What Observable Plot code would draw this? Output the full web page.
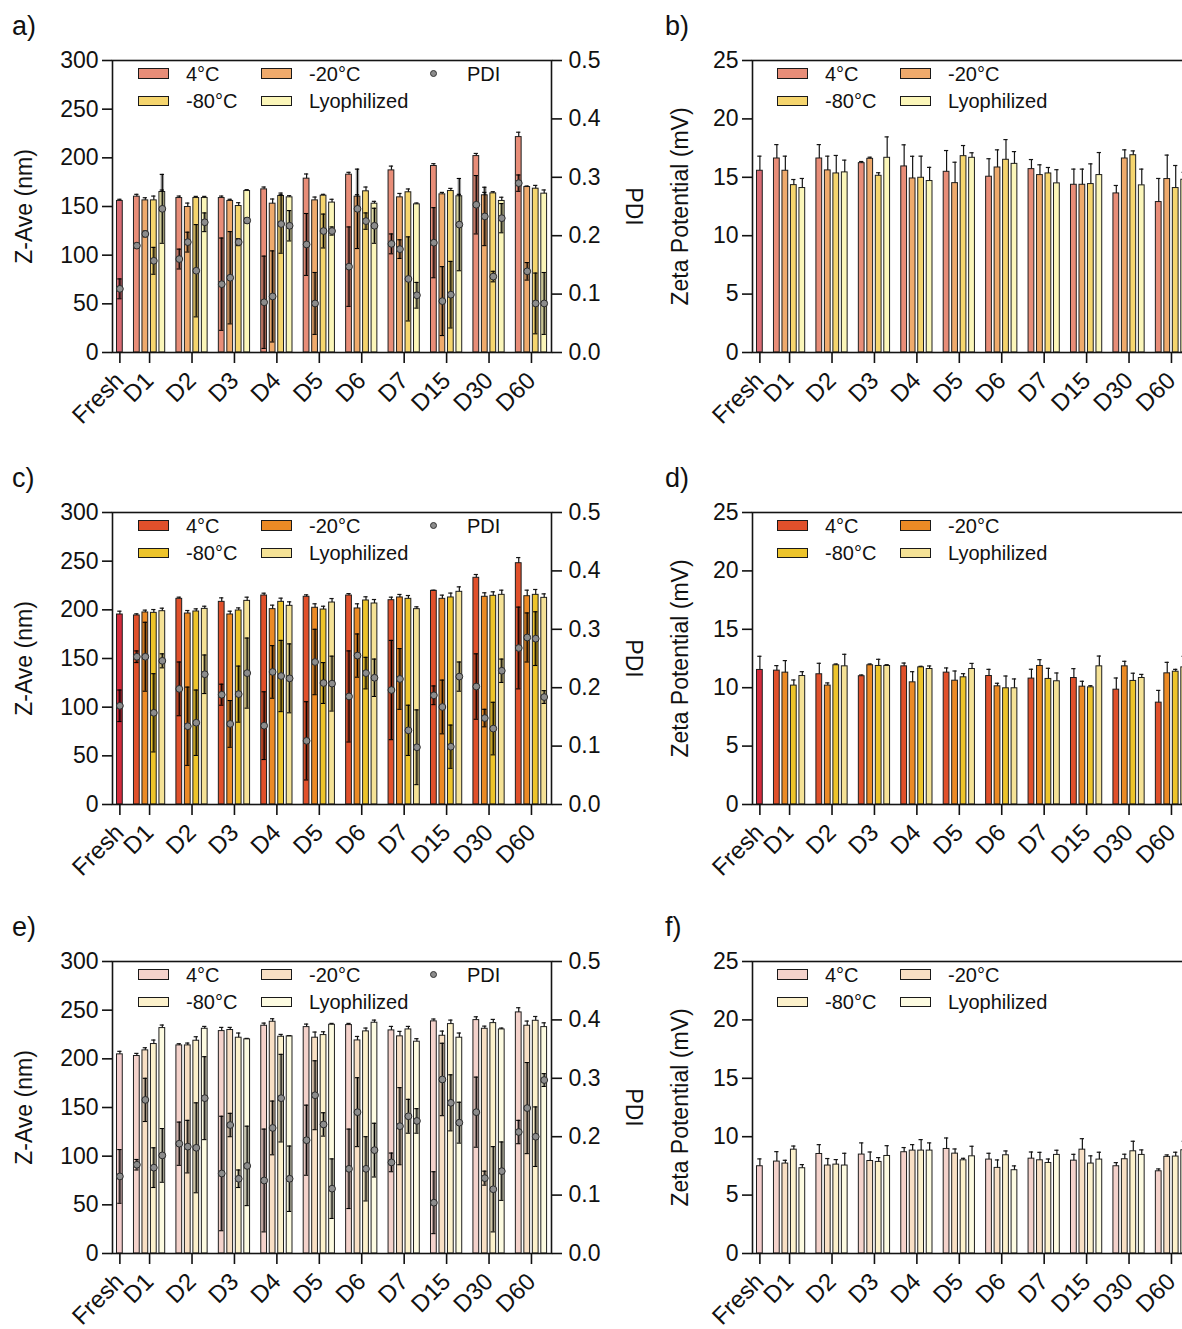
<!DOCTYPE html>
<html><head><meta charset="utf-8">
<script src="https://cdn.jsdelivr.net/npm/d3@7"></script>
<script src="https://cdn.jsdelivr.net/npm/@observablehq/plot@0.6"></script>
<style>
html,body{margin:0;padding:0;background:#fff;overflow:hidden;width:1182px;height:1329px;}
#root{position:relative;width:1182px;height:1329px;overflow:hidden;font-family:"Liberation Sans",Arial,sans-serif;color:#111;}
.panel{position:absolute;}
.lg{position:absolute;font-size:20px;line-height:20px;white-space:nowrap;}
.sw{position:absolute;box-sizing:border-box;width:31px;height:10.5px;border:1.5px solid #1a1a1a;}
.dot{position:absolute;box-sizing:border-box;width:7px;height:7px;border-radius:50%;background:#8c8c8c;border:1px solid #333;}
.letter{position:absolute;font-size:27px;line-height:27px;}
</style></head><body><div id="root"></div>
<script>
// ---------- categories ----------
const days = ["D1","D2","D3","D4","D5","D6","D7","D15","D30","D60"];
const xLabels = ["Fresh", ...days];
const conditions = ["4°C","-20°C","-80°C","Lyophilized"];
const zTicks = [0,50,100,150,200,250,300];
const zetaTicks = [0,5,10,15,20,25];
const pdiTicks = [0,0.1,0.2,0.3,0.4,0.5];

// ---------- colours ----------
const paletteA = {fresh:"#D96B73", cond:["#E88D78","#EFAA6C","#F5D56E","#FBF6B9"]};
const paletteC = {fresh:"#D42B3C", cond:["#E0502B","#EB8A25","#EDC42B","#F5E296"]};
const paletteE = {fresh:"#F2CCCB", cond:["#F4D2CB","#F8DFC4","#FCF1CB","#FDFBE1"]};

// ---------- panel a : Z-Ave (nm) ----------
const aZFresh = [155.7, 1.7];
const aZ_4C   = [160.1,158.7,158.7,167.6,178.6,182.7,187.1,191.6,201.8,221.3];
const aZ_4C_sd= [2.4,2.0,2.0,2.4,4.8,2.4,4.4,2.4,2.7,5.0];
const aZ_20   = [156.3,149.5,155.7,152.9,156.3,160.1,159.4,162.5,161.5,170.0];
const aZ_20_sd= [2.7,4.0,1.7,4.8,3.4,2.0,4.0,2.0,3.0,1.0];
const aZ_80   = [156.3,158.7,150.5,160.8,161.1,165.6,164.6,165.9,163.5,168.3];
const aZ_80_sd= [4.4,1.7,3.4,3.0,1.4,4.4,3.4,2.7,1.7,3.4];
const aZ_Ly   = [164.9,158.7,165.9,159.4,154.0,152.9,152.2,160.5,155.7,163.2];
const aZ_Ly_sd= [2.0,1.7,1.4,1.7,3.4,2.4,1.4,2.0,3.8,3.8];
// panel a : PDI
const aPFresh = [0.109, 0.017];
const aP_4C   = [0.183,0.160,0.117,0.086,0.185,0.147,0.186,0.188,0.253,0.290];
const aP_4C_sd= [0.004,0.017,0.079,0.079,0.053,0.068,0.017,0.060,0.050,0.014];
const aP_20   = [0.203,0.189,0.128,0.096,0.084,0.246,0.177,0.088,0.233,0.139];
const aP_20_sd= [0.005,0.017,0.079,0.078,0.053,0.068,0.016,0.059,0.050,0.015];
const aP_80   = [0.157,0.140,0.189,0.220,0.208,0.225,0.126,0.099,0.130,0.084];
const aP_80_sd= [0.023,0.079,0.006,0.050,0.029,0.014,0.072,0.057,0.009,0.052];
const aP_Ly   = [0.246,0.223,0.226,0.217,0.208,0.217,0.098,0.219,0.230,0.084];
const aP_Ly_sd= [0.059,0.016,0.005,0.026,0.007,0.030,0.022,0.079,0.025,0.053];

// ---------- panel b : Zeta (mV) ----------
const bFresh  = [15.56, 1.25];
const b_4C    = [16.61,16.61,16.21,15.93,15.47,15.05,15.70,14.36,13.62,12.88];
const b_4C_sd = [1.19,1.19,0.14,1.85,1.82,1.54,0.82,1.34,0.68,2.02];
const b_20    = [15.56,15.59,16.58,14.90,14.50,15.84,15.19,14.36,16.61,14.85];
const b_20_sd = [1.25,1.22,0.14,1.90,1.79,1.51,0.88,1.34,0.74,2.05];
const b_80    = [14.33,15.33,15.13,14.96,16.81,16.50,15.33,14.42,16.89,14.08];
const b_80_sd = [0.48,1.54,0.26,1.85,0.91,1.73,0.51,1.73,0.37,1.93];
const b_Ly    = [14.08,15.42,16.67,14.68,16.67,16.15,14.48,15.19,14.31,14.79];
const b_Ly_sd = [0.82,1.05,1.79,1.17,0.43,1.05,1.17,1.93,1.39,0.63];

// ---------- panel c : Z-Ave (nm) ----------
const cZFresh = [195.2, 3.4];
const cZ_4C   = [194.2,211.3,208.2,214.7,213.4,214.7,209.9,219.5,232.9,247.9];
const cZ_4C_sd= [1.7,1.7,4.1,2.4,2.0,2.0,3.1,0.7,3.4,5.8];
const cZ_20   = [197.3,196.2,195.2,200.7,202.1,201.4,212.7,211.3,213.4,214.0];
const cZ_20_sd= [2.4,3.1,3.4,4.1,4.1,4.8,3.1,3.8,4.1,6.2];
const cZ_80   = [196.9,198.3,199.3,208.2,200.3,209.6,211.3,212.7,214.4,215.4];
const cZ_80_sd= [3.4,2.7,2.7,3.8,3.4,3.8,3.4,4.5,4.1,5.5];
const cZ_Ly   = [198.6,201.0,209.2,204.1,207.5,206.5,200.7,218.5,215.4,212.3];
const cZ_Ly_sd= [3.1,2.7,3.8,4.1,4.1,4.1,2.4,5.1,4.8,4.1];
// panel c : PDI
const cPFresh = [0.169, 0.027];
const cP_4C   = [0.253,0.198,0.188,0.135,0.109,0.185,0.196,0.187,0.202,0.268];
const cP_4C_sd= [0.010,0.046,0.018,0.058,0.067,0.078,0.085,0.016,0.056,0.070];
const cP_20   = [0.253,0.134,0.138,0.227,0.244,0.255,0.215,0.167,0.148,0.286];
const cP_20_sd= [0.059,0.067,0.040,0.045,0.056,0.037,0.052,0.046,0.015,0.042];
const cP_80   = [0.157,0.140,0.189,0.220,0.208,0.225,0.127,0.099,0.130,0.284];
const cP_80_sd= [0.067,0.056,0.048,0.061,0.035,0.027,0.043,0.037,0.045,0.046];
const cP_Ly   = [0.246,0.223,0.225,0.216,0.207,0.217,0.098,0.219,0.229,0.184];
const cP_Ly_sd= [0.012,0.033,0.060,0.059,0.047,0.032,0.064,0.025,0.020,0.011];

// ---------- panel d : Zeta (mV) ----------
const dFresh  = [11.52, 1.17];
const d_4C    = [11.46,11.15,10.98,11.83,11.29,11.00,10.78,10.83,9.83,8.72];
const d_4C_sd = [0.43,0.94,0.11,0.28,0.40,0.57,0.80,0.80,1.00,1.05];
const d_20    = [11.29,10.18,11.92,10.46,10.60,10.12,11.86,10.09,11.83,11.23];
const d_20_sd = [1.03,0.23,0.11,0.91,0.83,0.26,0.54,0.46,0.43,0.94];
const d_80    = [10.18,11.92,11.86,11.74,10.89,9.95,10.75,10.03,10.58,11.37];
const d_80_sd = [0.48,0.11,0.57,0.09,0.31,1.05,0.91,0.14,0.66,0.20];
const d_Ly    = [11.00,11.83,11.86,11.60,11.60,9.95,10.55,11.83,10.83,11.74];
const d_Ly_sd = [0.37,1.03,0.11,0.26,0.48,0.80,0.71,0.88,0.31,0.94];

// ---------- panel e : Z-Ave (nm) ----------
const eZFresh = [204.6, 3.1];
const eZ_4C   = [202.9,213.8,228.5,234.0,232.6,234.7,229.2,238.5,239.8,247.7];
const eZ_4C_sd= [2.7,1.7,3.8,2.7,3.1,1.7,4.1,2.4,3.4,4.8];
const eZ_20   = [208.7,213.8,229.6,238.1,221.7,218.9,223.1,223.7,230.9,234.0];
const eZ_20_sd= [2.7,2.4,2.7,3.1,5.8,4.1,5.1,4.8,2.7,4.8];
const eZ_80   = [215.2,218.6,221.7,222.7,224.4,228.2,230.2,235.7,236.7,239.1];
const eZ_80_sd= [4.1,4.1,4.8,2.4,3.4,3.4,3.1,4.1,3.8,4.4];
const eZ_Ly   = [231.6,230.9,220.0,223.1,235.0,237.1,217.6,221.7,230.2,232.6];
const eZ_Ly_sd= [3.1,2.4,1.0,0.7,1.4,2.7,3.1,4.8,1.4,4.4];
// panel e : PDI
const ePFresh = [0.132, 0.046];
const eP_4C   = [0.152,0.188,0.137,0.125,0.194,0.145,0.156,0.087,0.242,0.208];
const eP_4C_sd= [0.009,0.037,0.098,0.088,0.060,0.068,0.016,0.053,0.060,0.020];
const eP_20   = [0.263,0.183,0.220,0.215,0.271,0.242,0.218,0.298,0.129,0.249];
const eP_20_sd= [0.037,0.045,0.020,0.046,0.059,0.059,0.066,0.062,0.012,0.078];
const eP_80   = [0.147,0.181,0.128,0.266,0.221,0.145,0.235,0.258,0.110,0.200];
const eP_80_sd= [0.034,0.077,0.015,0.075,0.020,0.055,0.029,0.048,0.073,0.051];
const eP_Ly   = [0.168,0.266,0.150,0.128,0.111,0.177,0.227,0.224,0.141,0.297];
const eP_Ly_sd= [0.046,0.071,0.068,0.056,0.051,0.046,0.021,0.035,0.050,0.011];

// ---------- panel f : Zeta (mV) ----------
const fFresh  = [7.47, 0.63];
const f_4C    = [7.87,8.52,8.47,8.67,8.95,8.04,8.12,7.95,7.47,7.04];
const f_4C_sd = [0.85,0.80,1.00,0.40,0.94,0.54,0.57,0.54,0.31,0.20];
const f_20    = [7.70,7.53,7.92,8.81,8.55,7.33,7.98,8.89,8.07,8.27];
const f_20_sd = [0.28,0.60,0.77,0.51,0.40,0.68,0.68,0.94,0.43,0.17];
const f_80    = [8.89,7.61,7.84,8.81,7.98,8.41,7.75,7.70,8.75,8.30];
const f_80_sd = [0.31,0.43,0.37,0.94,0.17,0.37,0.34,0.66,0.86,0.37];
const f_Ly    = [7.30,7.53,8.35,8.81,8.32,7.13,8.44,8.04,8.44,8.84];
const f_Ly_sd = [0.31,1.05,0.88,0.66,0.86,0.37,0.40,0.63,0.43,0.77];

// ---------- layout helpers ----------
const GROUP = 5;          // 4 bars + 1 gap slot
const FIRST = 2;          // first day group starts after Fresh + gap
const BAR_HALF = 0.34, CAP_HALF = 0.25;
const slotOf = (dayIdx, condIdx) => FIRST + dayIdx*GROUP + condIdx;
const groupCenters = [0, ...days.map((d,i) => FIRST + i*GROUP + 1.5)];
const labelByCenter = new Map(groupCenters.map((c,i) => [c, xLabels[i]]));

function buildRows(fresh, means, sds, palette, pdiFresh, pdiMeans, pdiSds) {
  const rows = [{slot:0, v:fresh[0], e:fresh[1], color:palette.fresh,
                 p: pdiFresh ? pdiFresh[0] : null, pe: pdiFresh ? pdiFresh[1] : null}];
  days.forEach((d, i) => {
    conditions.forEach((c, j) => {
      rows.push({slot: slotOf(i,j), v: means[j][i], e: sds[j][i], color: palette.cond[j],
                 p: pdiMeans ? pdiMeans[j][i] : null, pe: pdiSds ? pdiSds[j][i] : null});
    });
  });
  return rows;
}

const panels = [
  {letter:"a)", top:0, left:0, type:"z", palette:paletteA,
   rows: buildRows(aZFresh, [aZ_4C,aZ_20,aZ_80,aZ_Ly], [aZ_4C_sd,aZ_20_sd,aZ_80_sd,aZ_Ly_sd], paletteA,
                   aPFresh, [aP_4C,aP_20,aP_80,aP_Ly], [aP_4C_sd,aP_20_sd,aP_80_sd,aP_Ly_sd])},
  {letter:"b)", top:0, left:640, type:"zeta", palette:paletteA,
   rows: buildRows(bFresh, [b_4C,b_20,b_80,b_Ly], [b_4C_sd,b_20_sd,b_80_sd,b_Ly_sd], paletteA)},
  {letter:"c)", top:452, left:0, type:"z", palette:paletteC,
   rows: buildRows(cZFresh, [cZ_4C,cZ_20,cZ_80,cZ_Ly], [cZ_4C_sd,cZ_20_sd,cZ_80_sd,cZ_Ly_sd], paletteC,
                   cPFresh, [cP_4C,cP_20,cP_80,cP_Ly], [cP_4C_sd,cP_20_sd,cP_80_sd,cP_Ly_sd])},
  {letter:"d)", top:452, left:640, type:"zeta", palette:paletteC,
   rows: buildRows(dFresh, [d_4C,d_20,d_80,d_Ly], [d_4C_sd,d_20_sd,d_80_sd,d_Ly_sd], paletteC)},
  {letter:"e)", top:901, left:0, type:"z", palette:paletteE,
   rows: buildRows(eZFresh, [eZ_4C,eZ_20,eZ_80,eZ_Ly], [eZ_4C_sd,eZ_20_sd,eZ_80_sd,eZ_Ly_sd], paletteE,
                   ePFresh, [eP_4C,eP_20,eP_80,eP_Ly], [eP_4C_sd,eP_20_sd,eP_80_sd,eP_Ly_sd])},
  {letter:"f)", top:901, left:640, type:"zeta", palette:paletteE,
   rows: buildRows(fFresh, [f_4C,f_20,f_80,f_Ly], [f_4C_sd,f_20_sd,f_80_sd,f_Ly_sd], paletteE)}
];

const root = document.getElementById("root");
const INK = "#141414";

function renderPanel(p) {
  const isZ = p.type === "z";
  const yMax = isZ ? 300 : 25;
  const k = 300 / 0.5; // PDI -> Z-Ave axis units
  const rows = p.rows;
  const marks = [
    Plot.rectY(rows, {x1: d => d.slot - BAR_HALF, x2: d => d.slot + BAR_HALF, y1: 0, y2: "v",
                      fill: "color", stroke: "#1e1e1e", strokeWidth: 1}),
    Plot.ruleX(rows, {x: "slot", y1: "v", y2: d => d.v + d.e, stroke: INK, strokeWidth: 1.2}),
    Plot.ruleY(rows, {y: d => d.v + d.e, x1: d => d.slot - CAP_HALF, x2: d => d.slot + CAP_HALF,
                      stroke: INK, strokeWidth: 1.2})
  ];
  if (isZ) {
    marks.push(
      Plot.ruleX(rows, {x: "slot", y1: d => (d.p - d.pe)*k, y2: d => (d.p + d.pe)*k,
                        stroke: "#000", strokeOpacity: 0.38, strokeWidth: 3.5}),
      Plot.ruleX(rows, {x: "slot", y1: d => (d.p - d.pe)*k, y2: d => (d.p + d.pe)*k,
                        stroke: "#000", strokeWidth: 1}),
      Plot.ruleY(rows, {y: d => (d.p - d.pe)*k, x1: d => d.slot - CAP_HALF, x2: d => d.slot + CAP_HALF,
                        stroke: "#000", strokeWidth: 1.1}),
      Plot.ruleY(rows, {y: d => (d.p + d.pe)*k, x1: d => d.slot - CAP_HALF, x2: d => d.slot + CAP_HALF,
                        stroke: "#000", strokeWidth: 1.1}),
      Plot.dot(rows, {x: "slot", y: d => d.p*k, r: 3.4, fill: "#8c8c8c", stroke: "#2a2a2a", strokeWidth: 1})
    );
  }
  marks.push(
    Plot.frame({stroke: INK, strokeWidth: 1.6}),
    Plot.axisY(isZ ? zTicks : zetaTicks, {anchor: "left", tickSize: 10, tickPadding: 4,
               strokeWidth: 1.6, label: null, fontSize: 23}),
    Plot.axisX(groupCenters, {anchor: "bottom", tickSize: 11, tickPadding: 13, tickRotate: -45,
               tickFormat: d => labelByCenter.get(d), strokeWidth: 1.6, label: null, fontSize: 24}),
    Plot.text([isZ ? "Z-Ave (nm)" : "Zeta Potential (mV)"],
              {text: d => d, frameAnchor: "left", dx: isZ ? -88 : -72, rotate: -90,
               textAnchor: "middle", fontSize: 23})
  );
  if (isZ) {
    marks.push(
      Plot.axisY(pdiTicks.map(t => t*k), {anchor: "right", tickSize: 10, tickPadding: 7,
                 tickFormat: d => (d/k).toFixed(1), strokeWidth: 1.6, label: null, fontSize: 23}),
      Plot.text(["PDI"], {text: d => d, frameAnchor: "right", dx: 82, rotate: 90,
                textAnchor: "middle", fontSize: 23})
    );
  }
  const width = isZ ? 660 : 551;
  const chart = Plot.plot({
    width, height: 428,
    marginLeft: 112, marginRight: isZ ? 109 : 0, marginTop: 60, marginBottom: 76,
    x: {type: "linear", domain: [-0.87, 50.86]},
    y: {domain: [0, yMax]},
    color: {type: "identity"},
    style: {fontFamily: '"Liberation Sans", Arial, sans-serif', fontSize: "23px", color: "#111", background: "transparent", overflow: "visible"},
    marks
  });
  const div = document.createElement("div");
  div.className = "panel";
  div.style.left = p.left + "px";
  div.style.top = p.top + "px";
  div.style.width = width + "px";
  div.appendChild(chart);
  root.appendChild(div);

  // panel letter
  const L = document.createElement("div");
  L.className = "letter";
  L.textContent = p.letter;
  L.style.left = (p.left === 0 ? 12 : 665) + "px";
  L.style.top = (p.top + 13) + "px";
  root.appendChild(L);

  // legend (HTML)
  const plotTop = p.top + 60;
  const col1 = p.left === 0 ? 138 : 777;
  const col2 = p.left === 0 ? 261 : 900;
  const tx = 48;
  const pos = [[col1, 0], [col2, 0], [col1, 1], [col2, 1]];
  conditions.forEach((c, j) => {
    const [x, r] = pos[j];
    const sw = document.createElement("div");
    sw.className = "sw";
    sw.style.left = x + "px";
    sw.style.top = (plotTop + 8.3 + r*27.5) + "px";
    sw.style.background = p.palette.cond[j];
    root.appendChild(sw);
    const t = document.createElement("div");
    t.className = "lg";
    t.textContent = c;
    t.style.left = (x + tx) + "px";
    t.style.top = (plotTop + 3.8 + r*27.5) + "px";
    root.appendChild(t);
  });
  if (isZ) {
    const dt = document.createElement("div");
    dt.className = "dot";
    dt.style.left = (433 - 3.5) + "px";
    dt.style.top = (plotTop + 13.5 - 3.5) + "px";
    root.appendChild(dt);
    const t = document.createElement("div");
    t.className = "lg";
    t.textContent = "PDI";
    t.style.left = "467px";
    t.style.top = (plotTop + 3.8) + "px";
    root.appendChild(t);
  }
}

panels.forEach(renderPanel);
</script></body></html>
